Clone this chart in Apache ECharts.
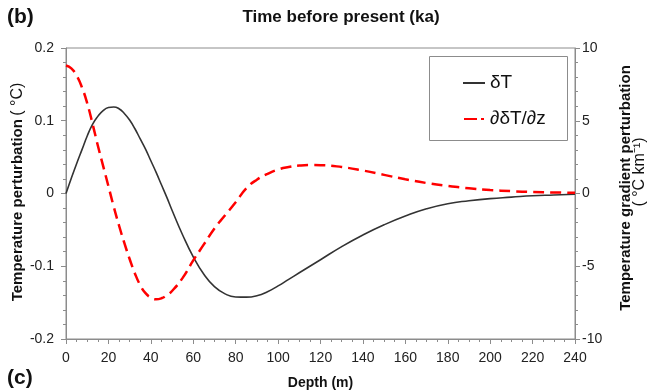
<!DOCTYPE html>
<html>
<head>
<meta charset="utf-8">
<script src="https://cdn.jsdelivr.net/npm/echarts@6/dist/echarts.min.js"></script>
<style>html,body{margin:0;padding:0;background:#fff}#c{width:647px;height:392px}</style>
</head>
<body>
<div id="c"></div>
<script>
const depth = [0,2.5,5,7.5,10,12.5,15,17.5,20,22.5,25,27.5,30,32.5,35,37.5,40,42.5,45,47.5,50,55,60,65,70,75,80,85,90,95,100,105,110,115,120,130,140,150,160,170,180,190,200,210,220,230,240];
const deltaT = [0,0.021,0.041,0.060,0.079,0.095,0.106,0.114,0.1182,0.119,0.1165,0.110,0.101,0.089,0.075,0.061,0.045,0.029,0.012,-0.005,-0.023,-0.057,-0.087,-0.111,-0.128,-0.138,-0.1422,-0.1425,-0.1405,-0.135,-0.127,-0.118,-0.109,-0.100,-0.091,-0.073,-0.057,-0.043,-0.031,-0.021,-0.014,-0.010,-0.007,-0.005,-0.003,-0.002,-0.001];
const gradT = [8.8,8.6,8.1,7.3,6.2,4.8,3.3,1.9,0.5,-0.9,-2.2,-3.4,-4.5,-5.5,-6.3,-6.85,-7.15,-7.27,-7.2,-7.0,-6.7,-5.8,-4.6,-3.5,-2.4,-1.5,-0.6,0.35,0.95,1.35,1.65,1.82,1.92,1.96,1.95,1.82,1.58,1.28,0.98,0.72,0.52,0.36,0.24,0.16,0.10,0.07,0.05];
const seriesNames = ['δT','∂δT/∂z'];
const xTicks = {min:0,max:240,interval:20};
const yLeft = {min:-0.2,max:0.2,interval:0.1};
const yRight = {min:-10,max:10,interval:5};

const FF = "'Liberation Sans', Arial, sans-serif";
const chart = echarts.init(document.getElementById('c'), null, {renderer:'canvas'});
const axisCol = '#8c8c8c';
const labCol = '#222';
const fmt = v => { const r = Math.round(v*10)/10; return r === 0 ? '0' : String(r); };
chart.setOption({
  animation:false,
  backgroundColor:'#fff',
  grid:{left:66,right:72,top:48,bottom:53,containLabel:false,outerBoundsMode:'none',show:true,borderColor:axisCol,borderWidth:1,backgroundColor:'transparent'},
  xAxis:{type:'value',min:xTicks.min,max:xTicks.max,interval:xTicks.interval,
    axisLine:{show:true,onZero:false,lineStyle:{color:axisCol}},
    axisTick:{show:true,length:5,lineStyle:{color:axisCol}},
    minorTick:{show:true,splitNumber:4,length:3,lineStyle:{color:axisCol}},
    splitLine:{show:false},
    axisLabel:{color:labCol,fontSize:14,fontFamily:FF,margin:12},
    name:'Depth (m)',nameLocation:'middle',nameGap:37,
    nameTextStyle:{color:'#111',fontSize:14,fontWeight:'bold',fontFamily:FF}},
  yAxis:[
    {type:'value',position:'left',min:yLeft.min,max:yLeft.max,interval:yLeft.interval,
     axisLine:{show:true,onZero:false,lineStyle:{color:axisCol}},
     axisTick:{show:true,length:5,lineStyle:{color:axisCol}},
     minorTick:{show:true,splitNumber:5,length:3,lineStyle:{color:axisCol}},
     splitLine:{show:false},
     axisLabel:{color:labCol,fontSize:14,fontFamily:FF,margin:12,formatter:fmt}},
    {type:'value',position:'right',min:yRight.min,max:yRight.max,interval:yRight.interval,
     axisLine:{show:true,onZero:false,lineStyle:{color:axisCol}},
     axisTick:{show:true,length:5,lineStyle:{color:axisCol}},
     minorTick:{show:true,splitNumber:5,length:3,lineStyle:{color:axisCol}},
     splitLine:{show:false},
     axisLabel:{color:labCol,fontSize:14,fontFamily:FF,margin:7}}
  ],
  legend:{orient:'vertical',left:458,top:68,itemWidth:22,itemHeight:2,itemGap:16,
    textStyle:{fontSize:19,fontFamily:FF,color:'#111',lineHeight:20},
    data:[{name:seriesNames[0],icon:'rect'},
          {name:seriesNames[1],icon:'path://M0,0H13V2H0Z M17,0H20V2H17Z'}]},
  series:[
    {name:seriesNames[0],type:'line',yAxisIndex:0,symbol:'none',smooth:0.5,
     data:depth.map((d,i)=>[d,deltaT[i]]),
     lineStyle:{color:'#333',width:1.6},itemStyle:{color:'#333'},z:3},
    {name:seriesNames[1],type:'line',yAxisIndex:1,symbol:'none',smooth:0.5,
     data:depth.map((d,i)=>[d,gradT[i]]),
     lineStyle:{color:'#ff0000',width:2.5,type:[11,6]},itemStyle:{color:'#ff0000'},z:4}
  ],
  graphic:[
    {type:'rect',shape:{x:429.5,y:56.5,width:138,height:84},style:{fill:'#fff',stroke:'#8c8c8c',lineWidth:1},z:1},
    {type:'text',x:7,y:17,style:{text:'(b)',font:"bold 21px "+FF,fill:'#111',textVerticalAlign:'middle'}},
    {type:'text',x:7,y:378,style:{text:'(c)',font:"bold 21px "+FF,fill:'#111',textVerticalAlign:'middle'}},
    {type:'text',x:341,y:17,style:{text:'Time before present (ka)',font:"bold 17px "+FF,fill:'#111',textAlign:'center',textVerticalAlign:'middle'}},
    {type:'text',x:18,y:192,rotation:Math.PI/2,
     style:{text:'{b|Temperature perturbation} {n|( °C)}',textAlign:'center',textVerticalAlign:'middle',
       rich:{b:{font:"bold 15px "+FF,fill:'#111'},n:{font:"16px "+FF,fill:'#111'}}}},
    {type:'text',x:626,y:188,rotation:Math.PI/2,
     style:{text:'Temperature gradient perturbation',font:"bold 15px "+FF,fill:'#111',textAlign:'center',textVerticalAlign:'middle'}},
    {type:'text',x:640,y:172,rotation:Math.PI/2,
     style:{text:'( °C km⁻¹)',font:"16px "+FF,fill:'#111',textAlign:'center',textVerticalAlign:'middle'}}
  ]
});
</script>
</body>
</html>
